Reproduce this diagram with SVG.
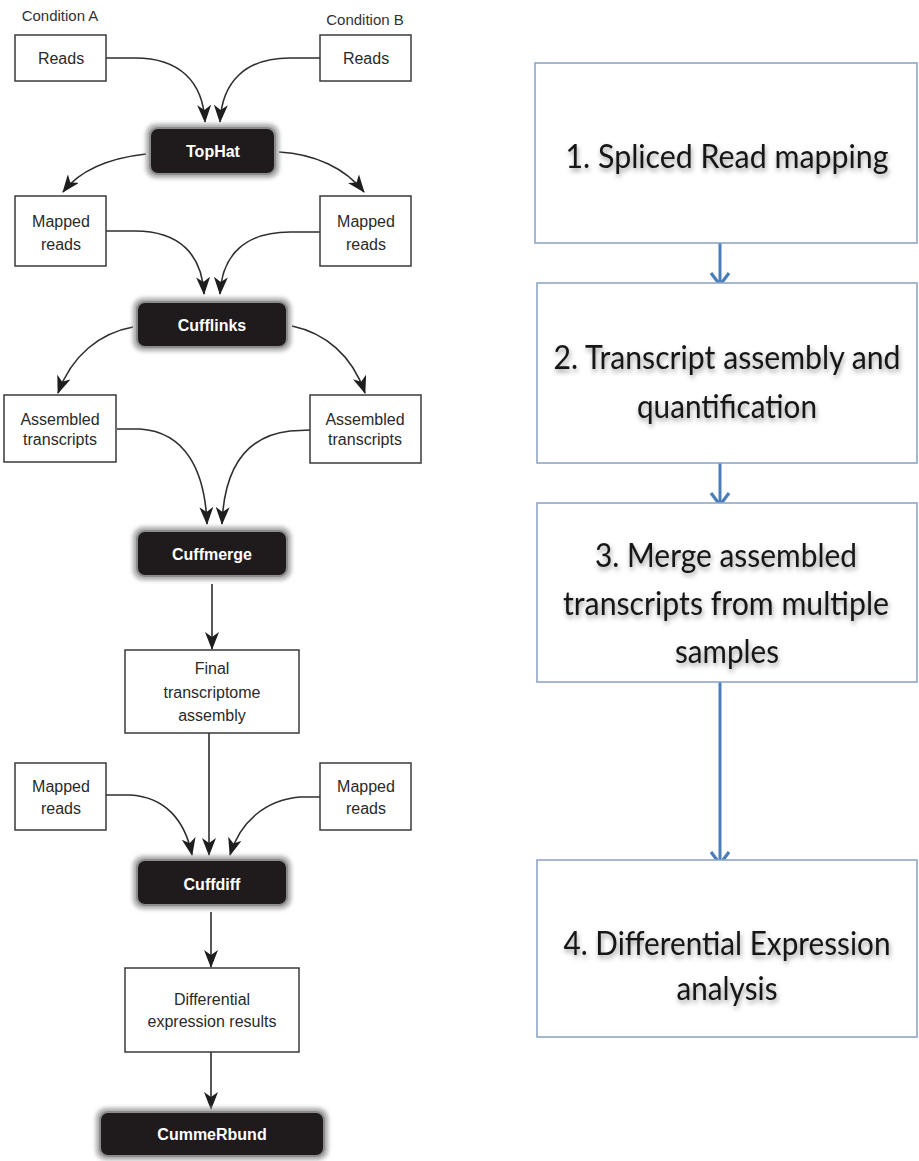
<svg xmlns="http://www.w3.org/2000/svg" width="919" height="1161" viewBox="0 0 919 1161">
<defs>
<style>
.box{fill:#fff;stroke:#3a3a3a;stroke-width:1.5}
.lbl{font-family:"Liberation Sans",Arial,sans-serif;font-size:16px;fill:#2a2a2a;text-anchor:middle}
.cond{font-family:"Liberation Sans",Arial,sans-serif;font-size:15px;fill:#333;text-anchor:middle}
.tool{fill:#1f1b1c;stroke:#8c8c8c;stroke-width:2}
.glow{fill:#a8a8a8;filter:url(#blur)}
.tlbl{font-family:"Liberation Sans",Arial,sans-serif;font-size:16px;font-weight:bold;fill:#fff;text-anchor:middle}
.edge{fill:none;stroke:#2e2e2e;stroke-width:1.6;marker-end:url(#ah)}
.step{fill:#fff;stroke:#8fa6c6;stroke-width:1.6}
.stxt{font-family:Lato,"Open Sans",sans-serif;font-size:32px;fill:#151515;text-anchor:middle;filter:url(#shadow)}
.bedge{fill:none;stroke:#4a7ebb;stroke-width:3;marker-end:url(#bah)}
</style>
<filter id="blur" x="-10%" y="-30%" width="120%" height="160%"><feGaussianBlur stdDeviation="2"/></filter>
<filter id="shadow" x="-5%" y="-30%" width="110%" height="170%"><feDropShadow dx="1" dy="3" stdDeviation="2.5" flood-color="#000" flood-opacity="0.4"/></filter>
<marker id="ah" viewBox="0 0 18 14" refX="17" refY="7" markerWidth="18" markerHeight="14" markerUnits="userSpaceOnUse" orient="auto"><path d="M0,0 L18,7 L0,14 L5,7 z" fill="#1e1e1e"/></marker>
<marker id="bah" viewBox="0 0 16 22" refX="14" refY="11" markerWidth="16" markerHeight="22" markerUnits="userSpaceOnUse" orient="auto"><path d="M2,2 L14,11 L2,20" fill="none" stroke="#4a7ebb" stroke-width="3.2"/></marker>
</defs>
<rect width="919" height="1161" fill="#fff"/>

<g id="connectors">
<path class="edge" d="M106,58 L135,58 C180,58 203,82 205,122"/>
<path class="edge" d="M320,58 L290,58 C245,58 222,82 220,122"/>
<path class="edge" d="M146,154 C110,158 80,170 63,192"/>
<path class="edge" d="M279,152 C315,154 345,168 364,192"/>
<path class="edge" d="M106,231 L135,231 C180,231 202,255 204,294"/>
<path class="edge" d="M320,232 L290,232 C245,232 222,255 220,294"/>
<path class="edge" d="M133,327 C100,333 72,355 58,393"/>
<path class="edge" d="M292,326 C325,333 352,355 365,393"/>
<path class="edge" d="M117,429 L140,429 C185,432 205,470 207,524"/>
<path class="edge" d="M310,430 L290,431 C245,436 224,470 222,524"/>
<path class="edge" d="M212,584 L212,649"/>
<path class="edge" d="M209,733 L209,855"/>
<path class="edge" d="M106,795 L130,795 C165,797 185,820 192,855"/>
<path class="edge" d="M320,797 L300,797 C265,800 240,822 230,855"/>
<path class="edge" d="M211,912 L211,967"/>
<path class="edge" d="M211,1052 L211,1109"/>
<path class="bedge" d="M720,243 L720,285"/>
<path class="bedge" d="M720,463 L720,505"/>
<path class="bedge" d="M720,682 L720,864"/>
</g>

<g id="condA"><text class="cond" x="60" y="21">Condition A</text></g>
<g id="condB"><text class="cond" x="365" y="25">Condition B</text></g>

<g id="readsA"><rect class="box" x="15" y="35" width="91" height="46"/><text class="lbl" x="61" y="64">Reads</text></g>
<g id="readsB"><rect class="box" x="320" y="35" width="91" height="46"/><text class="lbl" x="366" y="64">Reads</text></g>

<g id="tophat"><rect class="glow" x="146" y="124" width="133" height="54" rx="10"/><rect class="tool" x="150" y="128" width="125" height="46" rx="8"/><text class="tlbl" x="213" y="157">TopHat</text></g>

<g id="mappedA"><rect class="box" x="15" y="196" width="91" height="70"/><text class="lbl" x="61" y="227">Mapped</text><text class="lbl" x="61" y="250">reads</text></g>
<g id="mappedB"><rect class="box" x="320" y="196" width="91" height="70"/><text class="lbl" x="366" y="227">Mapped</text><text class="lbl" x="366" y="250">reads</text></g>

<g id="cufflinks"><rect class="glow" x="133" y="298" width="158" height="53" rx="10"/><rect class="tool" x="137" y="302" width="150" height="45" rx="8"/><text class="tlbl" x="212" y="331">Cufflinks</text></g>

<g id="asmA"><rect class="box" x="4" y="395" width="112" height="67"/><text class="lbl" x="60" y="425">Assembled</text><text class="lbl" x="60" y="445">transcripts</text></g>
<g id="asmB"><rect class="box" x="310" y="395" width="111" height="68"/><text class="lbl" x="365" y="425">Assembled</text><text class="lbl" x="365" y="445">transcripts</text></g>

<g id="cuffmerge"><rect class="glow" x="133" y="527" width="158" height="53" rx="10"/><rect class="tool" x="137" y="531" width="150" height="45" rx="8"/><text class="tlbl" x="212" y="560">Cuffmerge</text></g>

<g id="final"><rect class="box" x="125" y="650" width="174" height="83"/><text class="lbl" x="212" y="674">Final</text><text class="lbl" x="212" y="698">transcriptome</text><text class="lbl" x="212" y="721">assembly</text></g>

<g id="mappedC"><rect class="box" x="15" y="763" width="91" height="67"/><text class="lbl" x="61" y="792">Mapped</text><text class="lbl" x="61" y="814">reads</text></g>
<g id="mappedD"><rect class="box" x="320" y="763" width="91" height="67"/><text class="lbl" x="366" y="792">Mapped</text><text class="lbl" x="366" y="814">reads</text></g>

<g id="cuffdiff"><rect class="glow" x="133" y="856" width="158" height="53" rx="10"/><rect class="tool" x="137" y="860" width="150" height="45" rx="8"/><text class="tlbl" x="212" y="890">Cuffdiff</text></g>

<g id="diffres"><rect class="box" x="125" y="968" width="174" height="84"/><text class="lbl" x="212" y="1005">Differential</text><text class="lbl" x="212" y="1027">expression results</text></g>

<g id="cummerbund"><rect class="glow" x="96" y="1108" width="232" height="52" rx="10"/><rect class="tool" x="100" y="1112" width="224" height="44" rx="8"/><text class="tlbl" x="212" y="1140">CummeRbund</text></g>

<g id="step1"><rect class="step" x="535" y="63" width="382" height="180"/><text class="stxt" x="727" y="168" textLength="323" lengthAdjust="spacingAndGlyphs">1. Spliced Read mapping</text></g>
<g id="step2"><rect class="step" x="537" y="283" width="380" height="180"/><text class="stxt" x="727" y="369" textLength="347" lengthAdjust="spacingAndGlyphs">2. Transcript assembly and</text><text class="stxt" x="727" y="418" textLength="180" lengthAdjust="spacingAndGlyphs">quantification</text></g>
<g id="step3"><rect class="step" x="537" y="503" width="380" height="179"/><text class="stxt" x="726" y="567" textLength="262" lengthAdjust="spacingAndGlyphs">3. Merge assembled</text><text class="stxt" x="726" y="615" textLength="326" lengthAdjust="spacingAndGlyphs">transcripts from multiple</text><text class="stxt" x="727" y="663" textLength="104" lengthAdjust="spacingAndGlyphs">samples</text></g>
<g id="step4"><rect class="step" x="537" y="860" width="380" height="177"/><text class="stxt" x="727" y="955" textLength="327" lengthAdjust="spacingAndGlyphs">4. Differential  Expression</text><text class="stxt" x="727" y="1000" textLength="101" lengthAdjust="spacingAndGlyphs">analysis</text></g>
</svg>
